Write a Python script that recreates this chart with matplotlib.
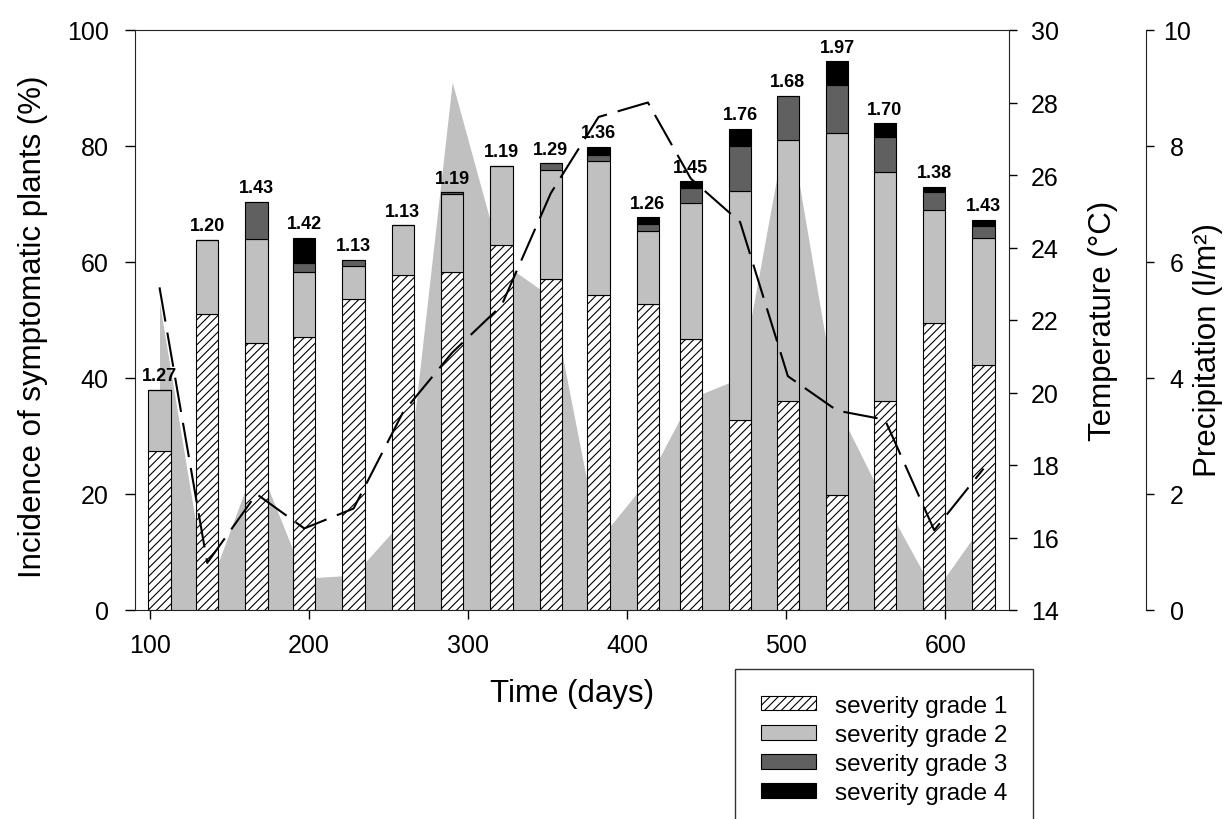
import numpy as np
import matplotlib
matplotlib.use('Agg')
import matplotlib.pyplot as plt
from matplotlib.patches import Patch

plt.rcParams['font.family'] = ['Liberation Sans', 'DejaVu Sans']
plt.rcParams['hatch.linewidth'] = 0.8
plt.rcParams['lines.scale_dashes'] = False

# Sampling dates (days)
days = [106, 136, 167, 197, 228, 259, 290, 321, 352, 382, 413, 440, 471, 501, 532, 562, 593, 624]

# Incidence (%) per severity grade, stacked
g1 = [27.5, 51.0, 46.1, 47.1, 53.7, 57.8, 58.3, 62.9, 57.1, 54.3, 52.7, 46.8, 32.8, 36.1, 19.8, 36.1, 49.5, 42.2]
g2 = [10.4, 12.8, 17.9, 11.2, 5.6, 8.5, 13.4, 13.7, 18.8, 23.1, 12.7, 23.3, 39.5, 44.9, 62.4, 39.5, 19.5, 22.0]
g3 = [0.0, 0.0, 6.4, 1.6, 1.1, 0.0, 0.3, 0.0, 1.1, 1.0, 1.1, 2.7, 7.7, 7.7, 8.3, 6.0, 3.1, 2.0]
g4 = [0.0, 0.0, 0.0, 4.3, 0.0, 0.0, 0.0, 0.0, 0.0, 1.4, 1.2, 1.1, 2.9, 0.0, 4.1, 2.3, 0.8, 1.0]

# Mean severity index shown above bars
severity = ['1.27', '1.20', '1.43', '1.42', '1.13', '1.13', '1.19', '1.19', '1.29',
            '1.36', '1.26', '1.45', '1.76', '1.68', '1.97', '1.70', '1.38', '1.43']

# Temperature (°C) and precipitation (l/m2)
temp = [22.9, 15.3, 17.2, 16.25, 16.8, 19.45, 21.1, 22.4, 25.5, 27.6, 28.0, 25.9, 24.7, 20.45, 19.5, 19.25, 16.2, 17.9]
precip = [5.3, 0.3, 2.6, 0.55, 0.6, 1.55, 9.1, 6.0, 5.4, 1.2, 2.25, 3.65, 4.0, 8.5, 3.5, 1.85, 0.3, 1.5]

grade_labels = ['severity grade 1', 'severity grade 2', 'severity grade 3', 'severity grade 4']

fig = plt.figure(figsize=(12.24, 8.2), dpi=100)
ax = fig.add_axes([135 / 1224, 209 / 820, 874 / 1224, 580 / 820])
ax_t = ax.twinx()
ax_p = ax.twinx()

# drawing order: precipitation area, bars, temperature line
ax_p.set_zorder(0)
ax.set_zorder(1)
ax_t.set_zorder(2)
ax.patch.set_visible(False)
ax_t.patch.set_visible(False)

spine_col = '#222222'
tick_fs = 18
label_fs = 22.5

# precipitation area
ax_p.fill_between(days, 0, precip, color='#c0c0c0', lw=0)
ax_p.set_ylim(0, 10)
ax_p.set_yticks(np.arange(0, 11, 2))
for s in ['left', 'top', 'bottom']:
    ax_p.spines[s].set_visible(False)
ax_p.spines['right'].set_position(('axes', 1.157))
ax_p.spines['right'].set_color(spine_col)
ax_p.tick_params(axis='y', direction='out', length=6, width=1, pad=16, labelsize=tick_fs, colors='black')
for lab in ax_p.get_yticklabels():
    lab.set_horizontalalignment('center')
ax_p.set_ylabel('Precipitation (l/m²)', fontsize=label_fs)
ax_p.yaxis.set_label_coords(1.21, 0.45)

# stacked bars
b1 = np.array(g1)
b2 = b1 + np.array(g2)
b3 = b2 + np.array(g3)
tot = b3 + np.array(g4)
w = 14
ax.bar(days, g1, width=w, color='white', edgecolor='black', hatch='////', lw=0.8)
ax.bar(days, g2, width=w, bottom=b1, color='#c0c0c0', edgecolor='black', lw=0.8)
ax.bar(days, g3, width=w, bottom=b2, color='#606060', edgecolor='black', lw=0.8)
ax.bar(days, g4, width=w, bottom=b3, color='black', edgecolor='black', lw=0.8)
for d, t, lab in zip(days, tot, severity):
    ax.text(d, t + 1.0, lab, ha='center', va='bottom', fontsize=13, fontweight='bold')

ax.set_xlim(90.6, 640)
ax.set_ylim(0, 100)
ax.set_xticks(np.arange(100, 601, 100))
ax.set_yticks(np.arange(0, 101, 20))
ax.spines['right'].set_visible(False)
for s in ['left', 'top', 'bottom']:
    ax.spines[s].set_color(spine_col)
ax.tick_params(axis='y', direction='out', length=7, width=1, pad=12, labelsize=tick_fs)
ax.tick_params(axis='x', direction='out', length=6.5, width=1, pad=10, labelsize=tick_fs)
ax.set_ylabel('Incidence of symptomatic plants (%)', fontsize=label_fs)
ax.yaxis.set_label_coords(-0.1, 0.49)
ax.set_xlabel('Time (days)', fontsize=label_fs)
ax.xaxis.set_label_coords(0.5, -0.118)

# temperature line
ax_t.plot(days, temp, color='black', lw=1.5, dashes=(25, 8))
ax_t.set_ylim(14, 30)
ax_t.set_yticks(np.arange(14, 31, 2))
for s in ['left', 'top', 'bottom']:
    ax_t.spines[s].set_visible(False)
ax_t.spines['right'].set_color(spine_col)
ax_t.tick_params(axis='y', direction='out', length=6, width=1, pad=10, labelsize=tick_fs)
ax_t.set_ylabel('Temperature (°C)', fontsize=label_fs)
ax_t.yaxis.set_label_coords(1.09, 0.5)

# legend
handles = [
    Patch(facecolor='white', edgecolor='black', hatch='////', lw=0.8, label=grade_labels[0]),
    Patch(facecolor='#c0c0c0', edgecolor='black', lw=0.8, label=grade_labels[1]),
    Patch(facecolor='#606060', edgecolor='black', lw=0.8, label=grade_labels[2]),
    Patch(facecolor='black', edgecolor='black', lw=0.8, label=grade_labels[3]),
]
leg = fig.legend(handles=handles, loc='upper left', bbox_to_anchor=(735 / 1224, 1 - 670 / 820),
                 frameon=True, fancybox=False, edgecolor='black', fontsize=17.5,
                 handlelength=2.3, handleheight=0.55, handletextpad=0.75,
                 labelspacing=0.3, borderpad=1.05, borderaxespad=0)
leg.get_frame().set_linewidth(1.0)

fig.savefig('out.png', dpi=100)
